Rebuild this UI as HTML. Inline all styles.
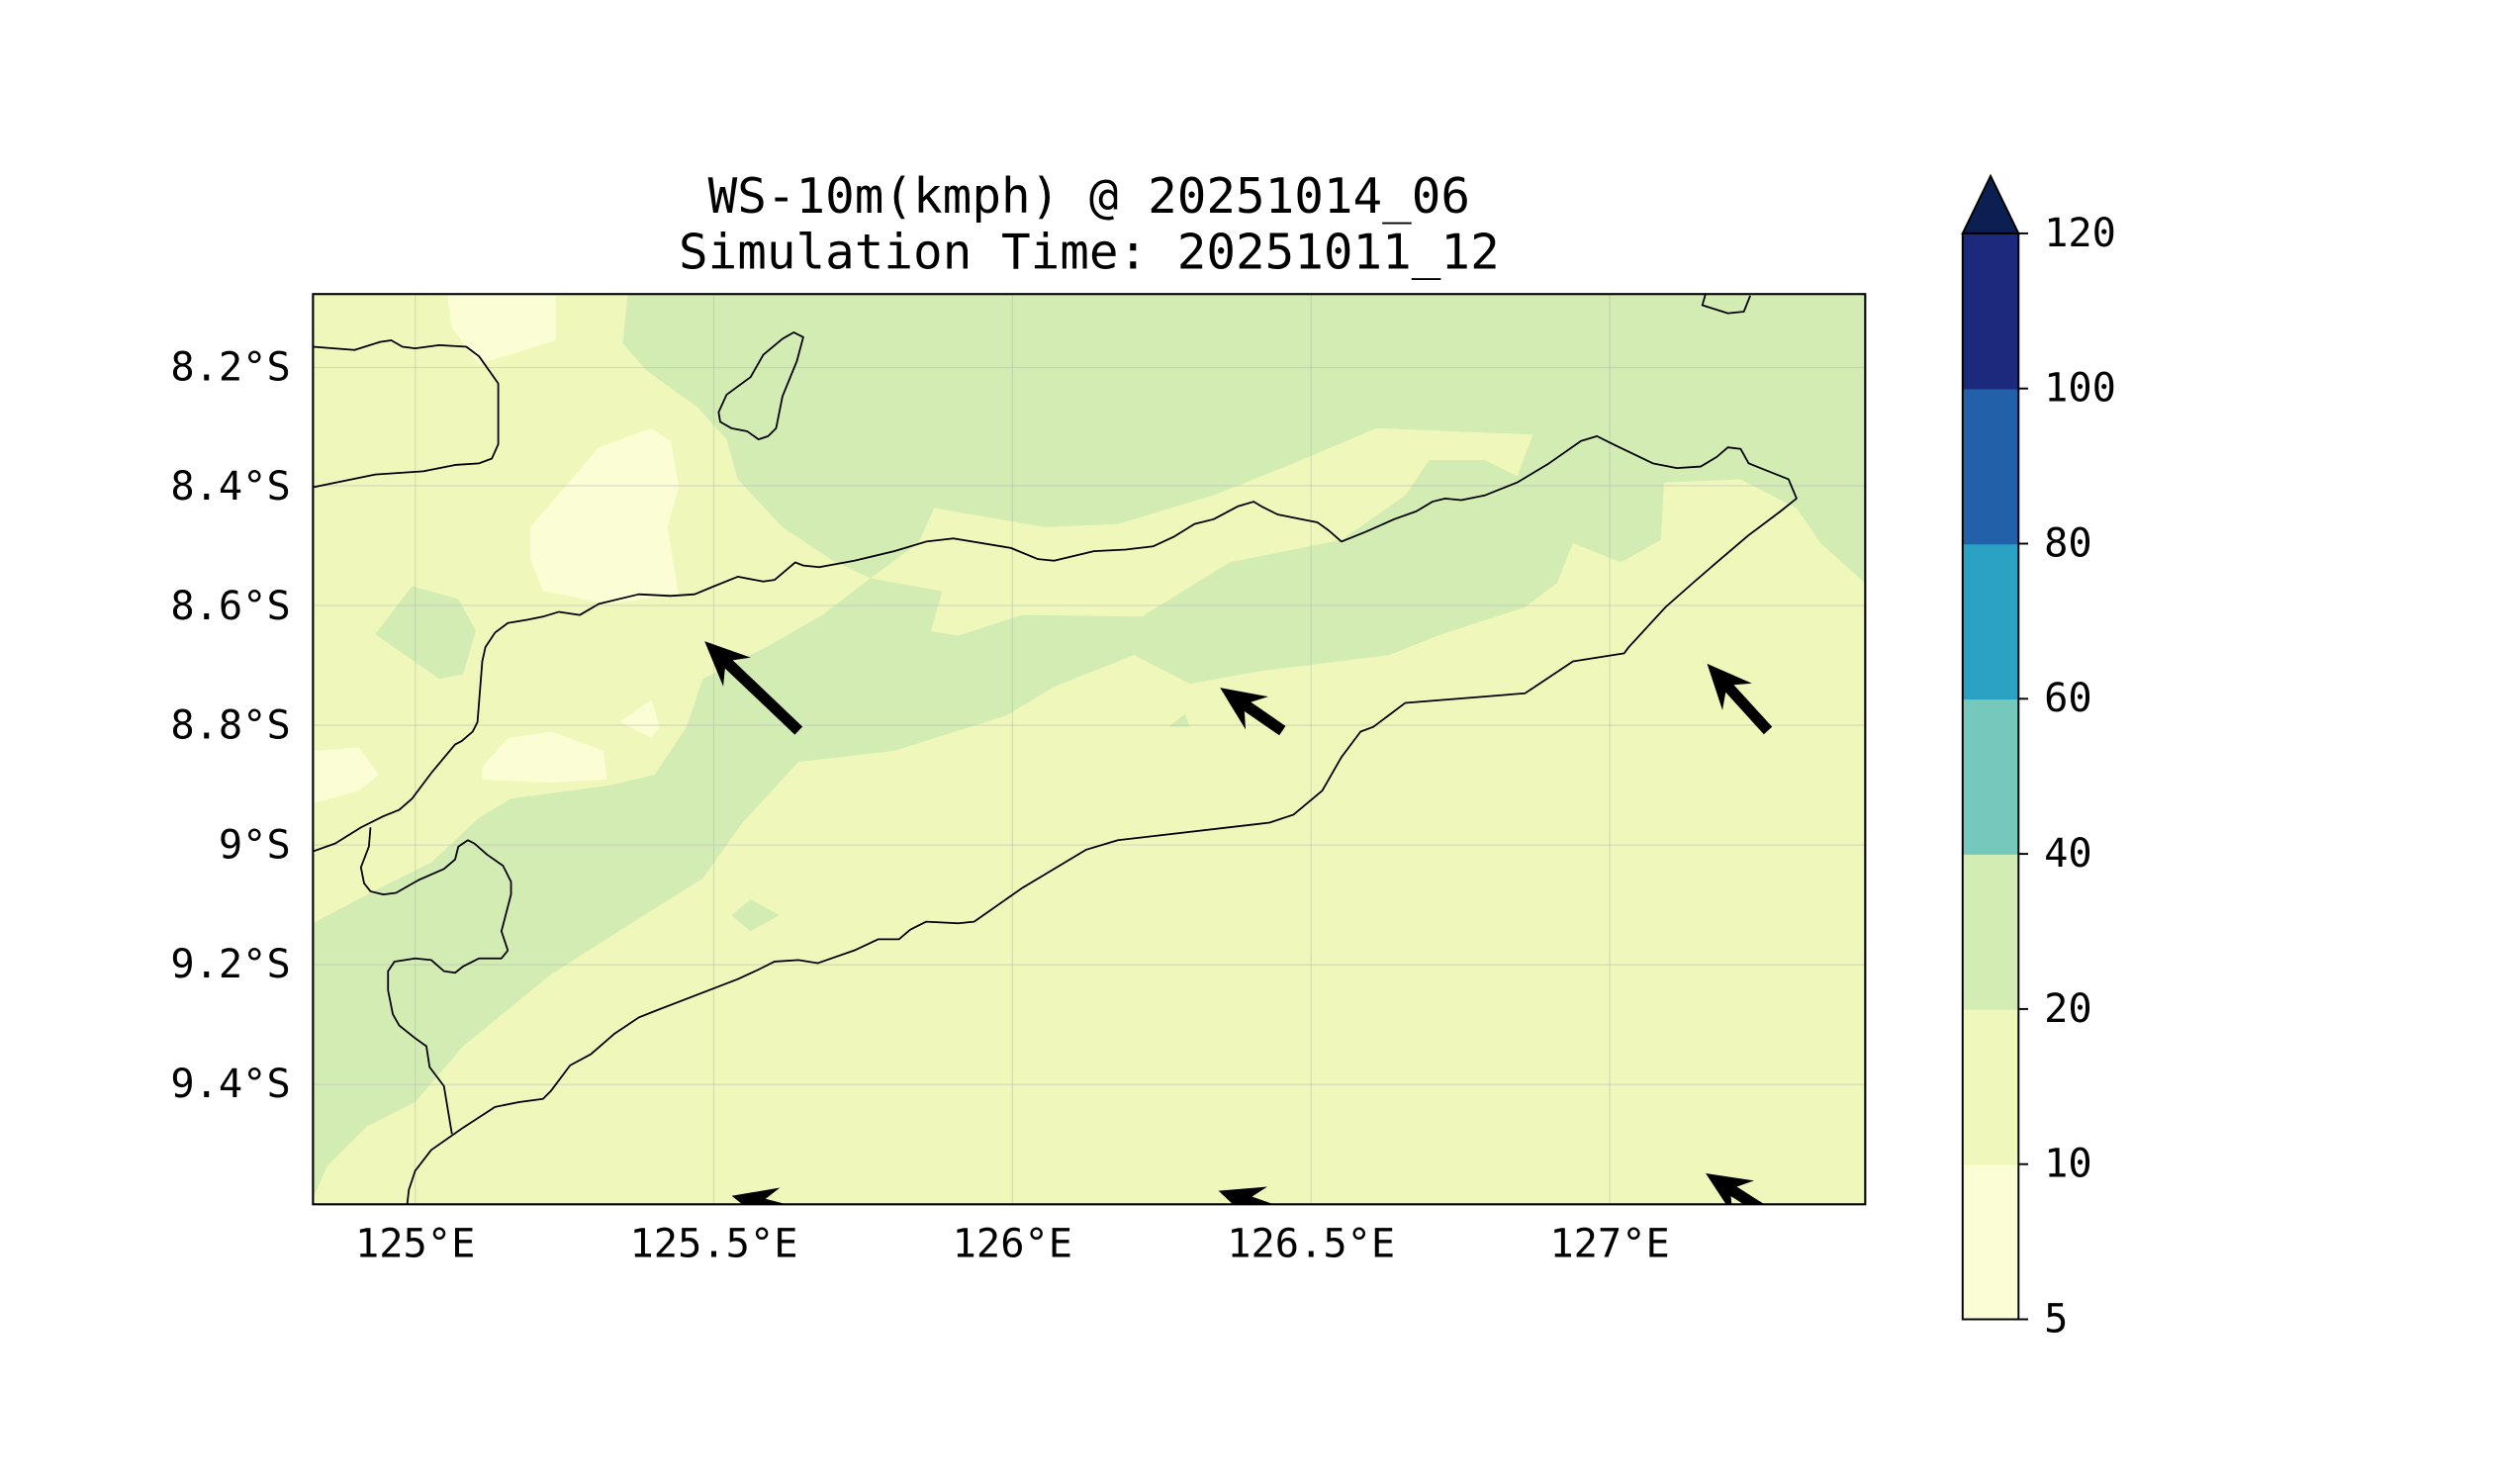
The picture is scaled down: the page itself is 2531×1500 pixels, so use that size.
<!DOCTYPE html>
<html><head><meta charset="utf-8"><style>
html,body{margin:0;padding:0;background:#fff}
svg{display:block}
text{font-family:"DejaVu Sans Mono","Liberation Mono",monospace;fill:#000}
</style></head><body>
<svg id="fig" width="2531" height="1500" viewBox="0 0 1568 929" xmlns="http://www.w3.org/2000/svg">
<defs><clipPath id="plotclip"><rect x="196" y="184" width="972" height="570"/></clipPath></defs>
<text x="682" y="133" font-size="30.5" text-anchor="middle">WS-10m(kmph) @ 20251014_06</text>
<text x="682" y="168" font-size="30.5" text-anchor="middle">Simulation Time: 20251011_12</text>
<g clip-path="url(#plotclip)">
<rect x="196" y="184" width="972" height="570" fill="#eff8ba"/>
<g fill="#fbfdd4">
<polygon points="280,184 348,184 348,213 300,228 283,205"/>
<polygon points="332,330 375,280 408,268 420,276 425,305 418,330 425,372 380,378 340,370 332,350"/>
<polygon points="196,470 225,468 237,485 225,495 196,503"/>
<polygon points="302,480 318,462 345,458 378,470 380,488 345,490 302,488"/>
<polygon points="388,452 408,438 413,455 408,462"/>
</g>
<g fill="#d2ecb4">
<polygon points="393,184 1168,184 1168,365 1140,340 1125,318 1090,300 1042,302 1040,338 1015,352 985,340 975,365 955,380 900,398 870,410 830,415 790,420 745,428 710,410 660,430 630,448 560,470 500,477 465,515 440,550 400,575 345,610 290,655 260,690 230,705 205,730 196,750 196,578 230,560 270,540 300,512 320,500 380,492 410,485 430,455 440,425 480,405 515,385 545,362 520,350 490,330 462,300 455,275 437,255 405,232 390,215"/>
<polygon points="235,397 258,367 287,375 298,395 290,422 275,425"/>
<polygon points="458,573 470,563 488,573 470,583"/>
<polygon points="732,455 742,447 745,455"/>
</g>
<polygon fill="#eff8ba" points="545,362 575,340 585,318 655,330 700,328 760,310 810,290 862,268 960,272 950,298 930,288 895,288 880,310 840,338 770,352 715,386 640,385 600,398 583,395 590,370"/>
<g stroke="#b8b8b8" stroke-opacity="0.45" stroke-width="0.8">
<line x1="260" y1="184" x2="260" y2="754"/><line x1="447" y1="184" x2="447" y2="754"/><line x1="634" y1="184" x2="634" y2="754"/><line x1="821" y1="184" x2="821" y2="754"/><line x1="1008" y1="184" x2="1008" y2="754"/>
<line x1="196" y1="230" x2="1168" y2="230"/><line x1="196" y1="304" x2="1168" y2="304"/><line x1="196" y1="379" x2="1168" y2="379"/><line x1="196" y1="454" x2="1168" y2="454"/><line x1="196" y1="529" x2="1168" y2="529"/><line x1="196" y1="604" x2="1168" y2="604"/><line x1="196" y1="679" x2="1168" y2="679"/>
</g>
<g fill="none" stroke="#000" stroke-width="1.1" stroke-linejoin="round">
<polyline points="196,217 222,219 238,214 245,213 252,217 260,218 275,216 292,217 300,223 312,240 312,278 308,287 300,290 285,291 265,295 235,297 196,305"/>
<polygon points="450,258 455,247 470,236 478,222 490,212 497,208 503,211 499,226 490,248 486,268 481,273 475,275 468,270 458,268 451,264"/>
<polyline points="196,533 210,528 226,518 240,511 250,507 258,500 270,484 285,466 289,464 296,458 299,452 302,414 304,405 310,396 318,390 330,388 340,386 350,383 363,385 375,378 400,372 420,373 435,372 447,367 462,361 478,364 485,363 498,352 503,354 513,355 535,351 560,345 580,339 597,337 633,343 650,350 660,351 685,345 705,344 722,342 735,336 748,328 760,325 775,317 785,314 790,317 800,322 815,325 825,327 832,332 840,339 855,333 873,325 887,320 897,314 905,312 915,313 930,310 950,302 970,290 990,276 1000,273 1010,278 1035,290 1050,293 1065,292 1075,286 1082,280 1090,281 1095,290 1105,294 1120,300 1125,312 1115,320 1095,335 1075,352 1060,365 1043,380 1020,405 1017,409 985,414 967,426 955,434 880,440 868,449 860,455 852,458 840,474 828,495 810,510 795,515 700,526 680,532 640,556 610,577 600,578 580,577 570,582 563,588 550,588 535,595 512,603 500,601 485,602 475,607 462,613 410,633 400,637 385,647 370,660 357,667 345,683 340,688 325,690 310,693 290,706 270,720 260,733 256,745 255,754"/>
<polyline points="232,518 231,530 226,543 228,553 232,558 240,560 248,559 262,551 278,544 285,538 287,530 293,526 297,528 305,535 315,542 320,552 320,560 314,583 318,595 314,600 300,600 290,605 285,609 278,608 270,601 260,600 247,602 243,608 243,620 246,635 250,642 260,650 267,655 269,668 278,680 283,710"/>
<polyline points="1068,184 1066,191 1082,196 1092,195 1096,185"/>
</g>
<g id="arrows"></g>
</g>
<rect x="196" y="184" width="972" height="570" fill="none" stroke="#000" stroke-width="1.3"/>
<g id="axes"></g>
<g id="cbar"></g>
</svg>
<script>
const xTickLons = [125, 125.5, 126, 126.5, 127];
const xTickLabels = ["125°E", "125.5°E", "126°E", "126.5°E", "127°E"];
const yTickLats = [8.2, 8.4, 8.6, 8.8, 9.0, 9.2, 9.4];
const yTickLabels = ["8.2°S", "8.4°S", "8.6°S", "8.8°S", "9°S", "9.2°S", "9.4°S"];
const arrowLons = [125.642, 126.452, 127.265, 125.642, 126.452, 127.265];
const arrowLats = [8.808, 8.808, 8.808, 9.616, 9.616, 9.616];
const arrowU = [-18.4, -12.2, -11.9, -13.1, -12.5, -12.2];
const arrowV = [17.5, 8.4, 13.1, 3.4, 4.4, 7.8];
const cbarLevels = [5, 10, 20, 40, 60, 80, 100, 120];
const cbarColors = ["#fbfdd4", "#eff8ba", "#d2ecb4", "#74c8bc", "#2ba1c3", "#2260a9", "#1c2a7d"];
const cbarExtendColor = "#0c1f53";

const NS = "http://www.w3.org/2000/svg";
function xScale(lon){ return 260 + (lon - 125) * 374; }
function yScale(lat){ return 230 + (lat - 8.2) * 374; }
const pxPerKmph = 3.2;
function mk(tag, attrs, parent){ const e = document.createElementNS(NS, tag); for (const k in attrs) e.setAttribute(k, attrs[k]); parent.appendChild(e); return e; }

const ag = document.getElementById('arrows');
for (let i = 0; i < arrowLons.length; i++) {
  const x0 = xScale(arrowLons[i]), y0 = yScale(arrowLats[i]);
  const dx = arrowU[i] * pxPerKmph, dy = -arrowV[i] * pxPerKmph;
  const L = Math.hypot(dx, dy), ux = dx / L, uy = dy / L, px = -uy, py = ux;
  const sw = 3.5, hw = 12.5, hl = 28, hb = 21;
  const pts = [
    [x0 + px*sw, y0 + py*sw],
    [x0 + ux*(L-hb) + px*sw, y0 + uy*(L-hb) + py*sw],
    [x0 + ux*(L-hl) + px*hw, y0 + uy*(L-hl) + py*hw],
    [x0 + ux*L, y0 + uy*L],
    [x0 + ux*(L-hl) - px*hw, y0 + uy*(L-hl) - py*hw],
    [x0 + ux*(L-hb) - px*sw, y0 + uy*(L-hb) - py*sw],
    [x0 - px*sw, y0 - py*sw]
  ];
  const p = mk('polygon', {points: pts.map(q => q[0].toFixed(1) + ',' + q[1].toFixed(1)).join(' '), fill: '#000'}, ag);
  
  
}

const ax = document.getElementById('axes');
xTickLons.forEach((lon, i) => {
  const t = mk('text', {x: xScale(lon), y: 787, 'font-size': 25, 'text-anchor': 'middle'}, ax);
  t.textContent = xTickLabels[i];
  
  
});
yTickLats.forEach((lat, i) => {
  const t = mk('text', {x: 182, y: yScale(lat) + 8, 'font-size': 25, 'text-anchor': 'end'}, ax);
  t.textContent = yTickLabels[i];
  
  
});

const cb = document.getElementById('cbar');
const cbX = 1229, cbW = 35, cbTop = 146, cbBot = 826;
const segH = (cbBot - cbTop) / cbarColors.length;
cbarColors.forEach((c, i) => {
  const r = mk('rect', {x: cbX, y: cbBot - (i + 1) * segH, width: cbW, height: segH + 0.5, fill: c}, cb);
  
  
});
const tri = mk('polygon', {points: `${cbX},${cbTop} ${cbX + cbW/2},${cbTop - 36} ${cbX + cbW},${cbTop}`, fill: cbarExtendColor, stroke: '#000', 'stroke-width': 1.2}, cb);


const fr = mk('rect', {x: cbX, y: cbTop, width: cbW, height: cbBot - cbTop, fill: 'none', stroke: '#000', 'stroke-width': 1.2}, cb);


cbarLevels.forEach((v, i) => {
  const y = cbBot - i * segH;
  mk('line', {x1: cbX + cbW, y1: y, x2: cbX + cbW + 6, y2: y, stroke: '#000', 'stroke-width': 1.2}, cb);
  const t = mk('text', {x: cbX + cbW + 16, y: y + 8, 'font-size': 25}, cb);
  t.textContent = v;
  
  
});
</script>
</body></html>
